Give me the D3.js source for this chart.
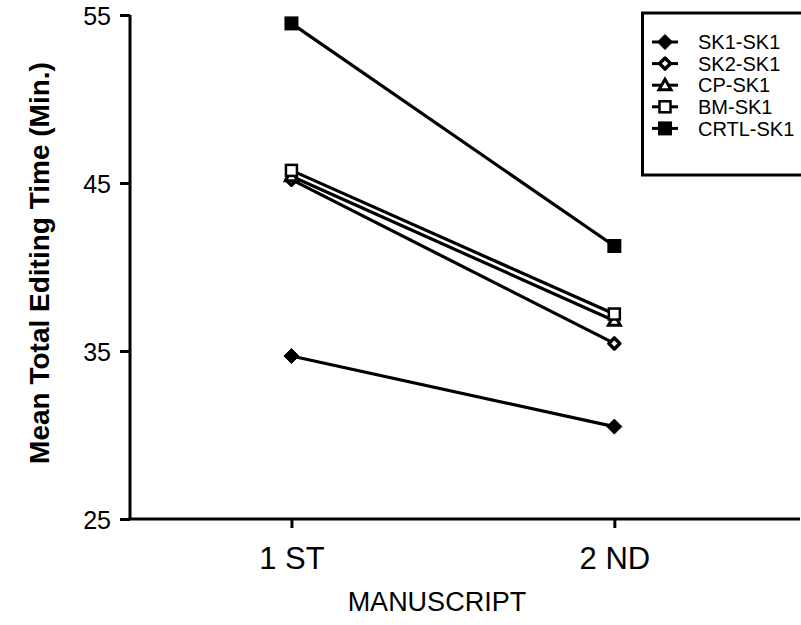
<!DOCTYPE html>
<html>
<head>
<meta charset="utf-8">
<script src="https://cdn.jsdelivr.net/npm/d3@7"></script>
<style>
  html, body { margin: 0; padding: 0; background: #fff; }
  svg { display: block; }
  text { font-family: "Liberation Sans", Arial, Helvetica, sans-serif; fill: #000; }
</style>
</head>
<body>
<svg id="chart" width="801" height="625"></svg>
<script>
// ---- data ----
const categories = ["1 ST", "2 ND"];
const seriesNames = ["SK1-SK1", "SK2-SK1", "CP-SK1", "BM-SK1", "CRTL-SK1"];
const sk1Values  = [34.7, 30.5];
const sk2Values  = [45.2, 35.45];
const cpValues   = [45.4, 36.8];
const bmValues   = [45.75, 37.2];
const crtlValues = [54.5, 41.25];
const yTicks = [25, 35, 45, 55];
const yTitle = "Mean Total Editing Time (Min.)";
const xTitle = "MANUSCRIPT";

const seriesValues = [sk1Values, sk2Values, cpValues, bmValues, crtlValues];
const markerTypes = ["diamondFilled", "diamondOpen", "triangleOpen", "squareOpen", "squareFilled"];

const svg = d3.select("#chart");

const x = d3.scaleLinear().domain([0.5, 2.575]).range([130, 800]);
const y = d3.scaleLinear().domain([25, 55]).range([519, 15]);

// ---- axes ----
const yAxis = d3.axisLeft(y).tickValues(yTicks).tickSize(10).tickPadding(9).tickFormat(d3.format("d"));
const gy = svg.append("g").attr("transform", `translate(${x(0.5)},0)`).call(yAxis);
gy.select(".domain").attr("stroke", "#000").attr("stroke-width", 3).attr("d", `M0,${y(25)}V${y(55)}`);
gy.selectAll(".tick line").attr("stroke", "#000").attr("stroke-width", 3);
gy.selectAll(".tick text").style("font-size", "25px").attr("dy", "0.36em");

const xAxis = d3.axisBottom(x).tickValues([1, 2]).tickSize(9).tickPadding(19)
  .tickFormat(d => categories[d - 1]);
const gx = svg.append("g").attr("transform", `translate(0,${y(25)})`).call(xAxis);
gx.select(".domain").attr("stroke", "#000").attr("stroke-width", 3).attr("d", `M${x(0.5) - 1.5},0H${x(2.575)}`);
gx.selectAll(".tick line").attr("stroke", "#000").attr("stroke-width", 3);
gx.selectAll(".tick text").style("font-size", "31px");

// axis titles
svg.append("text")
  .attr("transform", `translate(49,${(y(25) + y(55)) / 2 - 4}) rotate(-90)`)
  .attr("text-anchor", "middle")
  .style("font-size", "28px").style("font-weight", "bold")
  .text(yTitle);

svg.append("text")
  .attr("x", (x(1) + x(2)) / 2 - 16).attr("y", 611)
  .attr("text-anchor", "middle")
  .style("font-size", "27px")
  .text(xTitle);

// ---- markers ----
function diamond(r) { return `M0,${-r}L${r},0L0,${r}L${-r},0Z`; }
function drawMarker(g, type, cx, cy) {
  if (type === "diamondFilled") {
    g.append("path").attr("d", diamond(7.5))
      .attr("transform", `translate(${cx},${cy})`).attr("fill", "#000")
      .attr("stroke", "#000").attr("stroke-width", 1).attr("stroke-linejoin", "round");
  } else if (type === "diamondOpen") {
    g.append("path").attr("d", diamond(5.5))
      .attr("transform", `translate(${cx},${cy})`).attr("fill", "#fff")
      .attr("stroke", "#000").attr("stroke-width", 3.5).attr("stroke-linejoin", "round");
  } else if (type === "triangleOpen") {
    g.append("path").attr("d", "M0,-6L6,4.5L-6,4.5Z")
      .attr("transform", `translate(${cx},${cy})`).attr("fill", "#fff")
      .attr("stroke", "#000").attr("stroke-width", 3);
  } else if (type === "squareOpen") {
    g.append("rect").attr("x", cx - 5.5).attr("y", cy - 5.5).attr("width", 11).attr("height", 11)
      .attr("fill", "#fff").attr("stroke", "#000").attr("stroke-width", 2.5);
  } else if (type === "squareFilled") {
    g.append("rect").attr("x", cx - 7).attr("y", cy - 7).attr("width", 14).attr("height", 14)
      .attr("fill", "#000");
  }
}

// ---- lines ----
const line = d3.line().x((d, i) => x(i + 1)).y(d => y(d));
const plot = svg.append("g");
seriesValues.forEach((vals) => {
  plot.append("path").datum(vals).attr("d", line)
    .attr("fill", "none").attr("stroke", "#000").attr("stroke-width", 3.2);
});
seriesValues.forEach((vals, si) => {
  vals.forEach((v, i) => drawMarker(plot, markerTypes[si], x(i + 1), y(v)));
});

// ---- legend ----
const legend = svg.append("g");
legend.append("rect").attr("x", 642.5).attr("y", 13).attr("width", 170).attr("height", 162)
  .attr("fill", "#fff").attr("stroke", "#000").attr("stroke-width", 3);
seriesNames.forEach((name, i) => {
  const cy = 42 + i * 21.6;
  legend.append("line").attr("x1", 652).attr("x2", 678).attr("y1", cy).attr("y2", cy)
    .attr("stroke", "#000").attr("stroke-width", 3);
  drawMarker(legend, markerTypes[i], 665, cy);
  legend.append("text").attr("x", 698).attr("y", cy).attr("dy", "0.36em")
    .style("font-size", "20px").text(name);
});
</script>
</body>
</html>
